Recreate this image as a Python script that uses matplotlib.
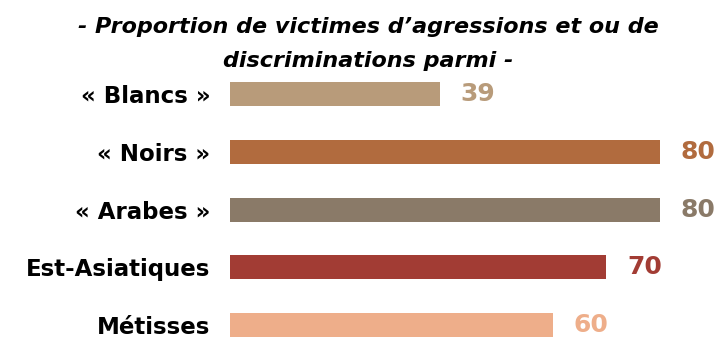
import matplotlib as mpl
mpl.use('Agg')
import matplotlib.pyplot as plt

# données
categories = ['« Blancs »', '« Noirs »', '« Arabes »', 'Est-Asiatiques', 'Métisses']
valeurs = [39, 80, 80, 70, 60]
couleurs = ['#B89B7A', '#B16B3E', '#8A7A68', '#A23C34', '#EEAE8A']
titre = '- Proportion de victimes d’agressions et ou de\ndiscriminations parmi -'

plt.rcParams['font.family'] = ['DejaVu Sans']

fig = plt.figure(figsize=(7.15, 3.39), dpi=100)
ax = fig.add_axes([230 / 715, 0, 1 - 230 / 715, 1])

pos = list(range(len(categories)))
ax.barh(pos, valeurs, height=0.415, color=couleurs)

# étiquettes de valeur
for p, v, c in zip(pos, valeurs, couleurs):
    ax.annotate(str(v), (v, p), xytext=(15, 0), textcoords='offset points',
                ha='left', va='center', fontsize=18, fontweight='bold', color=c)

ax.set_xlim(0, 485 / 5.375)
ax.set_ylim(4.239, -1.626)
ax.set_yticks(pos)
ax.set_yticklabels(categories, fontsize=16.5, fontweight='bold')
ax.tick_params(axis='y', length=0, pad=14)
ax.set_xticks([])
for s in ax.spines.values():
    s.set_visible(False)

fig.text(368 / 715, 1 - 44 / 339, titre, ha='center', va='center',
         fontsize=16, fontweight='bold', fontstyle='italic', linespacing=1.85)

plt.savefig('out.png')
plt.close()
